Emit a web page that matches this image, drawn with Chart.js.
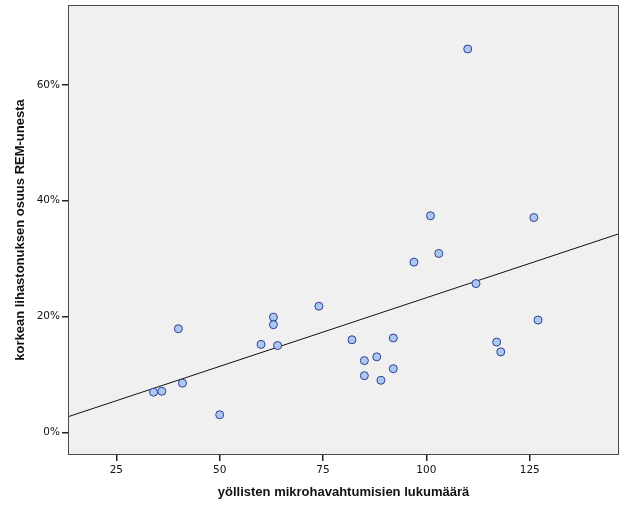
<!DOCTYPE html>
<html>
<head>
<meta charset="utf-8">
<script src="https://cdn.jsdelivr.net/npm/chart.js@4.4.1/dist/chart.umd.min.js"></script>
<style>
  html, body { margin: 0; padding: 0; background: #fff; }
  #wrap { width: 626px; height: 521px; }
</style>
</head>
<body>
<div id="wrap"><canvas id="myChart" width="626" height="521"></canvas></div>
<script>
// values
var arousals = [110, 101, 126, 103, 97, 112, 74, 63, 63, 40, 127, 60, 64, 82, 92, 117, 118, 88, 85, 92, 85, 89, 41, 36, 34, 50];
var remShare = [66.2, 37.4, 37.1, 30.9, 29.4, 25.7, 21.8, 19.9, 18.6, 17.9, 19.4, 15.2, 15.0, 16.0, 16.3, 15.6, 13.9, 13.05, 12.4, 11.0, 9.8, 9.0, 8.5, 7.1, 6.95, 3.05];

// fit line end points (at the plot edges)
var fitX = [13.3, 146.6];
var fitY = [2.7, 34.3];

var xTicks = [25, 50, 75, 100, 125];
var yTicks = [0, 20, 40, 60];
var xRange = [13.3, 146.6];
var yRange = [-3.9, 73.8];

var xTitle = "yöllisten mikrohavahtumisien lukumäärä";
var yTitle = "korkean lihastonuksen osuus REM-unesta";

var points = [];
for (var i = 0; i < arousals.length; i++) {
    points.push({ x: arousals[i], y: remShare[i] });
}
var fitPoints = [];
for (var j = 0; j < fitX.length; j++) {
    fitPoints.push({ x: fitX[j], y: fitY[j] });
}

// grey plot background and the frame round it
var plotFrame = {
    id: "plotFrame",
    beforeDatasetsDraw: function (chart) {
        var a = chart.chartArea;
        var ctx = chart.ctx;
        ctx.save();
        ctx.fillStyle = "#f0f0f0";
        ctx.fillRect(a.left, a.top, a.right - a.left, a.bottom - a.top);
        ctx.restore();
    },
    afterDraw: function (chart) {
        var a = chart.ctx, c = chart.chartArea;
        a.save();
        a.strokeStyle = "#4a4a4a";
        a.lineWidth = 1;
        a.strokeRect(c.left + 0.5, c.top + 0.5, c.right - c.left - 1, c.bottom - c.top - 1);
        a.restore();
    }
};

var tickFont = { family: "DejaVu Sans", size: 10.5 };
var titleFont = { family: "Liberation Sans", size: 13, weight: "bold" };

var config = {
    type: "scatter",
    data: {
        datasets: [
            {
                label: "points",
                data: points,
                backgroundColor: "rgb(170,200,240)",
                borderColor: "rgb(50,62,150)",
                borderWidth: 1,
                pointRadius: 4,
                order: 1
            },
            {
                label: "fit",
                data: fitPoints,
                showLine: true,
                borderColor: "#111",
                borderWidth: 1,
                pointRadius: 0,
                order: 2
            }
        ]
    },
    options: {
        responsive: false,
        animation: false,
        layout: { padding: { left: 0, top: 5, right: 7, bottom: 0 } },
        plugins: { legend: { display: false }, tooltip: { enabled: false } },
        scales: {
            x: {
                type: "linear",
                min: xRange[0],
                max: xRange[1],
                afterBuildTicks: function (s) { s.ticks = xTicks.map(function (v) { return { value: v }; }); },
                afterFit: function (s) { s.height = 66; s.paddingLeft = 0; s.paddingRight = 0; },
                grid: { drawOnChartArea: false, tickLength: 6, color: "#222", lineWidth: 1.5 },
                border: { display: false },
                ticks: { color: "#111", font: tickFont, padding: 3, maxRotation: 0 },
                title: {
                    display: true,
                    text: xTitle,
                    color: "#111",
                    font: titleFont,
                    padding: { top: 0, bottom: 21 }
                }
            },
            y: {
                type: "linear",
                min: yRange[0],
                max: yRange[1],
                afterBuildTicks: function (s) { s.ticks = yTicks.map(function (v) { return { value: v }; }); },
                afterFit: function (s) { s.width = 68; s.paddingTop = 0; s.paddingBottom = 0; },
                grid: { drawOnChartArea: false, tickLength: 6, color: "#222", lineWidth: 1.5 },
                border: { display: false },
                ticks: {
                    color: "#111",
                    font: tickFont,
                    padding: 2,
                    callback: function (v) { return v + "%"; }
                },
                title: {
                    display: true,
                    text: yTitle,
                    color: "#111",
                    font: titleFont,
                    padding: { top: 13, bottom: 0 }
                }
            }
        }
    },
    plugins: [plotFrame]
};

var ctx = document.getElementById("myChart").getContext("2d");
var myChart = new Chart(ctx, config);
</script>
</body>
</html>
